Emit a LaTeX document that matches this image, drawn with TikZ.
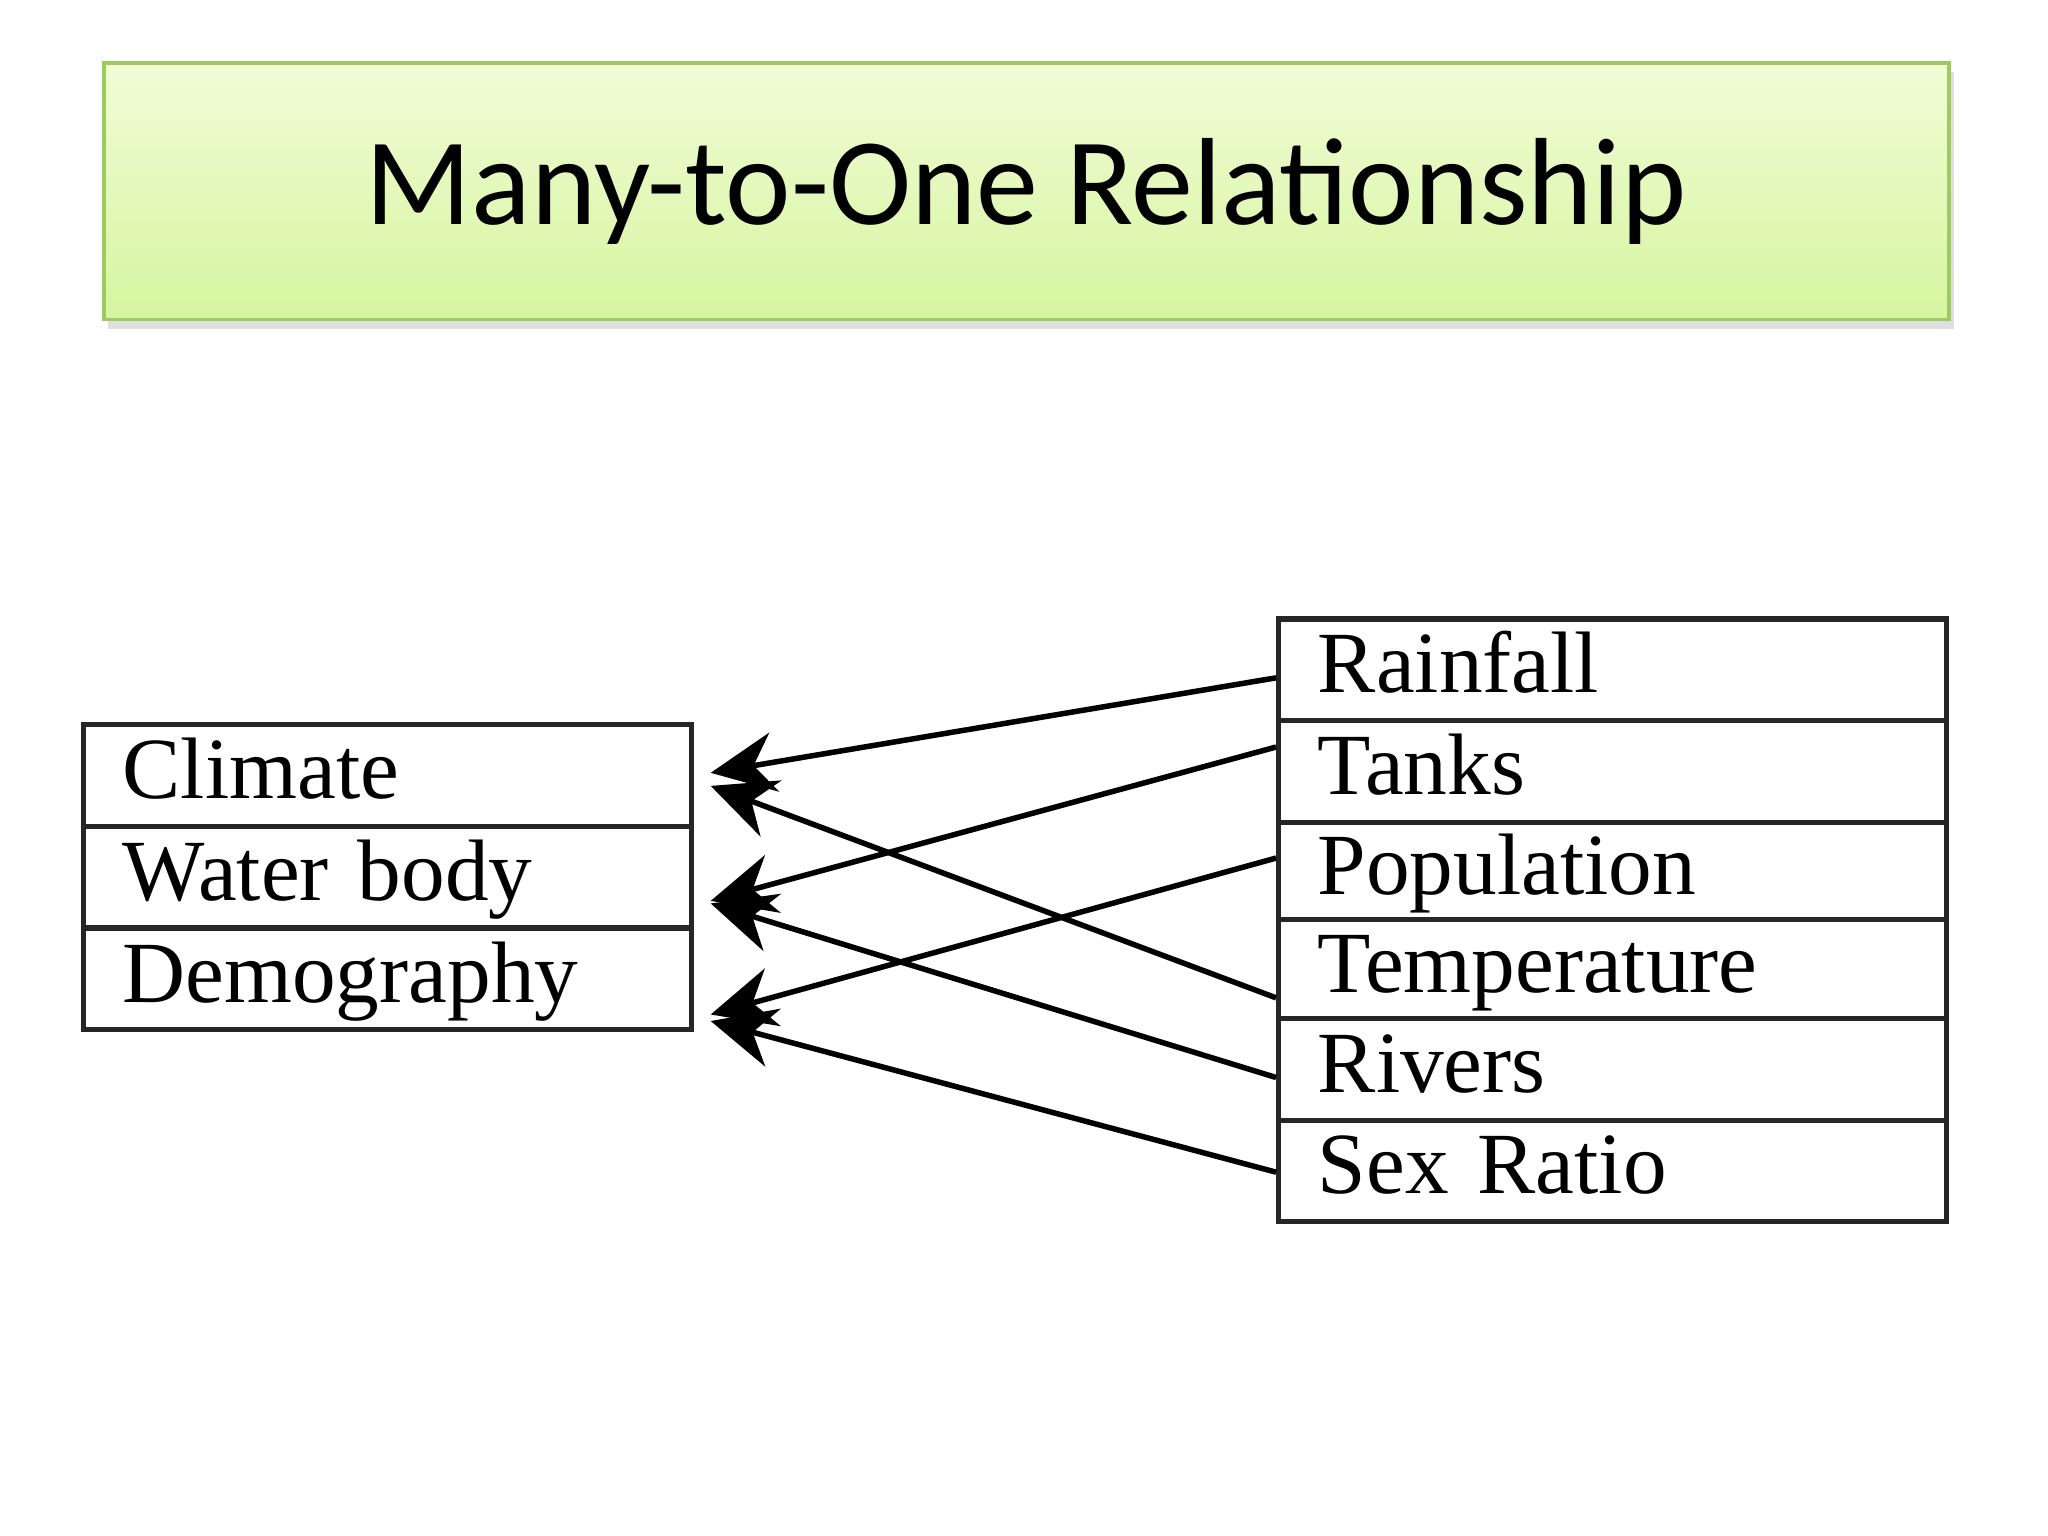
\documentclass[tikz,border=0pt]{standalone}
\usepackage{fontspec}
\setmainfont{Liberation Serif}
\newfontfamily\titlefont{Carlito}
\usetikzlibrary{arrows.meta,shadows}
\definecolor{gtop}{HTML}{F1FCD6}
\definecolor{gbot}{HTML}{D6F5A0}
\definecolor{gedge}{HTML}{9CCB5E}
\tikzset{
  cell/.style={draw=black!85,line width=1.1pt,anchor=north west,inner sep=0pt,
    text width=#1,align=left,font=\fontsize{19}{19}\selectfont,text height=14pt,text depth=4pt},
  lcell/.style={cell=4.45cm,minimum width=4.65cm,minimum height=0.775cm},
  rcell/.style={cell=4.91cm,minimum width=5.11cm},
  rel/.style={line width=1.2pt,-{Stealth[length=14pt,width=13pt]}}
}
\begin{document}
\begin{tikzpicture}[x=0.01cm,y=-0.01cm]
\useasboundingbox[fill=white] (0,0) rectangle (1568,1176);
\node[draw=gedge,line width=0.8pt,top color=gtop,bottom color=gbot,
  minimum width=14.12cm,minimum height=1.96cm,anchor=north west,inner sep=0pt,
  drop shadow={opacity=0.25,shadow xshift=1pt,shadow yshift=-2pt},
  font=\titlefont\fontsize{27}{27}\selectfont] (title) at (78,47) {Many-to-One Relationship};
% left table
\node[lcell] (clim) at (62,553) {\hspace{0.2cm}Climate};
\node[lcell] (water) at (62,631) {\hspace{0.2cm}Water body};
\node[lcell] (demo) at (62,709) {\hspace{0.2cm}Demography};
% right table
\node[rcell,minimum height=0.78cm] (rain) at (977,472) {\hspace{0.2cm}Rainfall};
\node[rcell,minimum height=0.78cm] (tanks) at (977,550) {\hspace{0.2cm}Tanks};
\node[rcell,minimum height=0.74cm] (pop) at (977,628) {\hspace{0.2cm}Population};
\node[rcell,minimum height=0.76cm] (temp) at (977,702) {\hspace{0.2cm}Temperature};
\node[rcell,minimum height=0.78cm] (riv) at (977,778) {\hspace{0.2cm}Rivers};
\node[rcell,minimum height=0.77cm] (sex) at (977,856) {\hspace{0.2cm}Sex Ratio};
% connectors
\draw[rel] ([yshift=-0.06cm]rain.west) -- ([xshift=0.13cm,yshift=0.02cm]clim.east);
\draw[rel] ([yshift=0.19cm]tanks.west) -- ([xshift=0.13cm,yshift=-0.18cm]water.east);
\draw[rel] ([yshift=0.1cm]pop.west) -- ([xshift=0.13cm,yshift=-0.27cm]demo.east);
\draw[rel] ([yshift=-0.22cm]temp.west) -- ([xshift=0.13cm,yshift=-0.08cm]clim.east);
\draw[rel] ([yshift=-0.06cm]riv.west) -- ([xshift=0.13cm,yshift=-0.2cm]water.east);
\draw[rel] ([yshift=-0.01cm]sex.west) -- ([xshift=0.13cm,yshift=-0.32cm]demo.east);
\end{tikzpicture}
\end{document}
